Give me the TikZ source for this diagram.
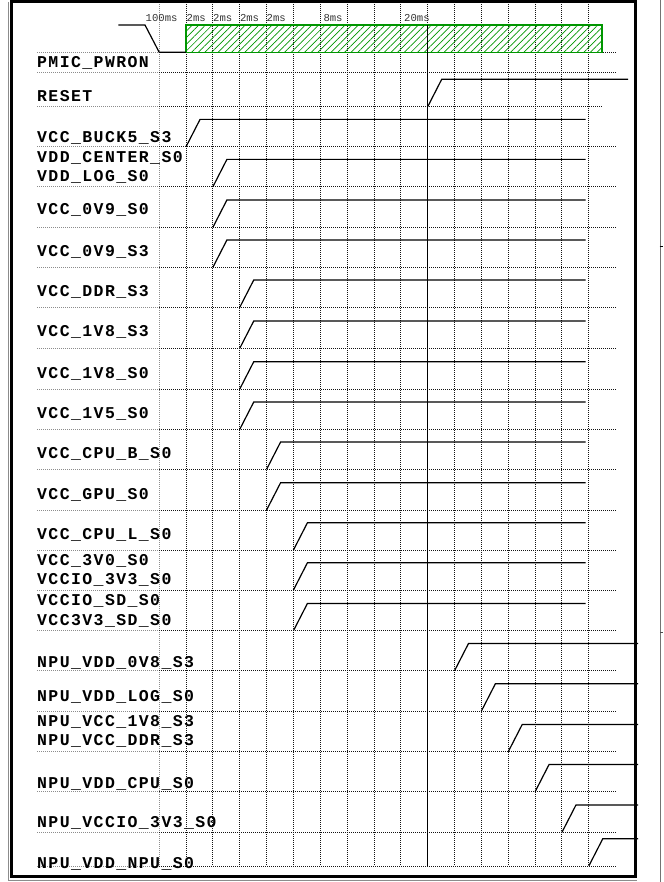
\documentclass[tikz,border=0pt]{standalone}
\usepackage{fontspec}
\usepackage{tikz}
\usetikzlibrary{patterns.meta}

\newfontfamily\signalfont[LetterSpace=8.5]{Liberation Mono}
\newfontfamily\timefont{Liberation Mono}
\definecolor{pwrgreen}{RGB}{0,150,0}
\definecolor{gridgray}{RGB}{20,20,20}

\begin{document}
\begin{tikzpicture}[x=1pt, y=-1pt,
  signal/.style={line width=1.2pt, line join=miter},
  vgrid/.style={gridgray, line width=1pt, dash pattern=on 1pt off 1pt},
  hgrid/.style={gridgray, line width=1pt, dash pattern=on 1pt off 1pt},
  faintgrid/.style={black!45, line width=0.8pt, dash pattern=on 1pt off 1pt},
  siglabel/.style={anchor=base west, inner sep=0pt, font=\signalfont\bfseries\fontsize{16.5}{19}\selectfont},
  timelabel/.style={anchor=base west, inner sep=0pt, text=black!80, font=\timefont\fontsize{10.6}{12}\selectfont}
]
\useasboundingbox (0,0) rectangle (663,882);

% grid
\draw[faintgrid] (159.2,2) -- (159.2,866);
\foreach \k in {1,...,16}
  \draw[vgrid] ({159.2+26.85*\k},2) -- ({159.2+26.85*\k},866);
\foreach \y in {52.3,72.3,146.7,186.7,227.3,267.3,307.3,348.3,389,429.3,469.3,510,550,590,630.7,670.7,711,751.7,791.7,832.3,866} {
  \draw[faintgrid] (37,\y) -- (159.2,\y);
  \draw[hgrid] (159.2,\y) -- (617,\y);
}
\draw[faintgrid] (37,106.7) -- (159.2,106.7);
\draw[hgrid] (159.2,106.7) -- (603,106.7);

% step times
\node[timelabel] (t100) at (145.5,21.7) {100ms};
\node[timelabel] (t2a) at (186.5,21.7) {2ms};
\node[timelabel] (t2b) at (213,21.7) {2ms};
\node[timelabel] (t2c) at (239.8,21.7) {2ms};
\node[timelabel] (t2d) at (266.5,21.7) {2ms};
\node[timelabel] (t8) at (323.3,21.7) {8ms};
\node[timelabel] (t20) at (404,21.7) {20ms};

% power-on window
\fill[pattern={Lines[angle=45,distance=4.7pt,line width=0.7pt]}, pattern color=pwrgreen] (186.05,25) rectangle (602,52.3);
\draw[pwrgreen, line width=1.2pt] (186.05,25) rectangle (602,52.3);
\draw[line width=1.2pt] (427.7,25) -- (427.7,866);

% signals
\draw[signal] (118.3,25) -- (145,25) -- (159.2,52.3) -- (186.05,52.3);
\draw[signal] (427.7,106.7) -- (441.7,79.3) -- (628,79.3);
\draw[signal] (186.05,146.7) -- (200.05,119.4) -- (585.5,119.4);
\draw[signal] (212.9,186.7) -- (226.9,159.4) -- (585.5,159.4);
\draw[signal] (212.9,227.3) -- (226.9,200) -- (585.5,200);
\draw[signal] (212.9,267.3) -- (226.9,240) -- (585.5,240);
\draw[signal] (239.75,307.3) -- (253.75,280) -- (585.5,280);
\draw[signal] (239.75,348.3) -- (253.75,321) -- (585.5,321);
\draw[signal] (239.75,389) -- (253.75,361.7) -- (585.5,361.7);
\draw[signal] (239.75,429.3) -- (253.75,402) -- (585.5,402);
\draw[signal] (266.6,469.3) -- (280.6,442) -- (585.5,442);
\draw[signal] (266.6,510) -- (280.6,482.7) -- (585.5,482.7);
\draw[signal] (293.45,550) -- (307.45,522.7) -- (585.5,522.7);
\draw[signal] (293.45,590) -- (307.45,562.7) -- (585.5,562.7);
\draw[signal] (293.45,630.7) -- (307.45,603.4) -- (585.5,603.4);
\draw[signal] (454.55,670.7) -- (468.55,643.4) -- (638,643.4);
\draw[signal] (481.4,711) -- (495.4,683.7) -- (638,683.7);
\draw[signal] (508.25,751.7) -- (522.25,724.4) -- (638,724.4);
\draw[signal] (535.1,791.7) -- (549.1,764.4) -- (638,764.4);
\draw[signal] (561.95,832.3) -- (575.95,805) -- (638,805);
\draw[signal] (588.8,866) -- (602.8,838.7) -- (638,838.7);

% rail names
\node[siglabel] (pwron) at (37,68) {PMIC\_PWRON};
\node[siglabel] (reset) at (37,101.7) {RESET};
\node[siglabel] (buck5) at (37,142.5) {VCC\_BUCK5\_S3};
\node[siglabel] (center) at (37,163) {VDD\_CENTER\_S0};
\node[siglabel] (log) at (37,182) {VDD\_LOG\_S0};
\node[siglabel] (v09s0) at (37,215) {VCC\_0V9\_S0};
\node[siglabel] (v09s3) at (37,256.7) {VCC\_0V9\_S3};
\node[siglabel] (ddr) at (37,296.7) {VCC\_DDR\_S3};
\node[siglabel] (v18s3) at (37,336.7) {VCC\_1V8\_S3};
\node[siglabel] (v18s0) at (37,378.3) {VCC\_1V8\_S0};
\node[siglabel] (v15s0) at (37,418.3) {VCC\_1V5\_S0};
\node[siglabel] (cpub) at (37,458.3) {VCC\_CPU\_B\_S0};
\node[siglabel] (gpu) at (37,499) {VCC\_GPU\_S0};
\node[siglabel] (cpul) at (37,539) {VCC\_CPU\_L\_S0};
\node[siglabel] (v30) at (37,565.7) {VCC\_3V0\_S0};
\node[siglabel] (vccio) at (37,584.3) {VCCIO\_3V3\_S0};
\node[siglabel] (iosd) at (37,605.7) {VCCIO\_SD\_S0};
\node[siglabel] (sd) at (37,625) {VCC3V3\_SD\_S0};
\node[siglabel] (npu08) at (37,667.3) {NPU\_VDD\_0V8\_S3};
\node[siglabel] (npulog) at (37,701) {NPU\_VDD\_LOG\_S0};
\node[siglabel] (npu18) at (37,726.7) {NPU\_VCC\_1V8\_S3};
\node[siglabel] (npuddr) at (37,745.7) {NPU\_VCC\_DDR\_S3};
\node[siglabel] (npucpu) at (37,788.3) {NPU\_VDD\_CPU\_S0};
\node[siglabel] (npuio) at (37,827.7) {NPU\_VCCIO\_3V3\_S0};
\node[siglabel] (npunpu) at (37,868.3) {NPU\_VDD\_NPU\_S0};

% frame
\draw[black!45, line width=0.8pt] (8.3,2) -- (8.3,880.7) -- (637,880.7);
\draw[line width=3pt] (11,1.5) rectangle (635.8,876.5);
\draw[black!55, line width=1pt] (660,0) -- (660,882);
\draw[line width=1.5pt] (659.5,246.7) -- (663,246.7);
\draw[black!70, line width=0.8pt] (660,632.7) -- (663,632.7);
\end{tikzpicture}
\end{document}
